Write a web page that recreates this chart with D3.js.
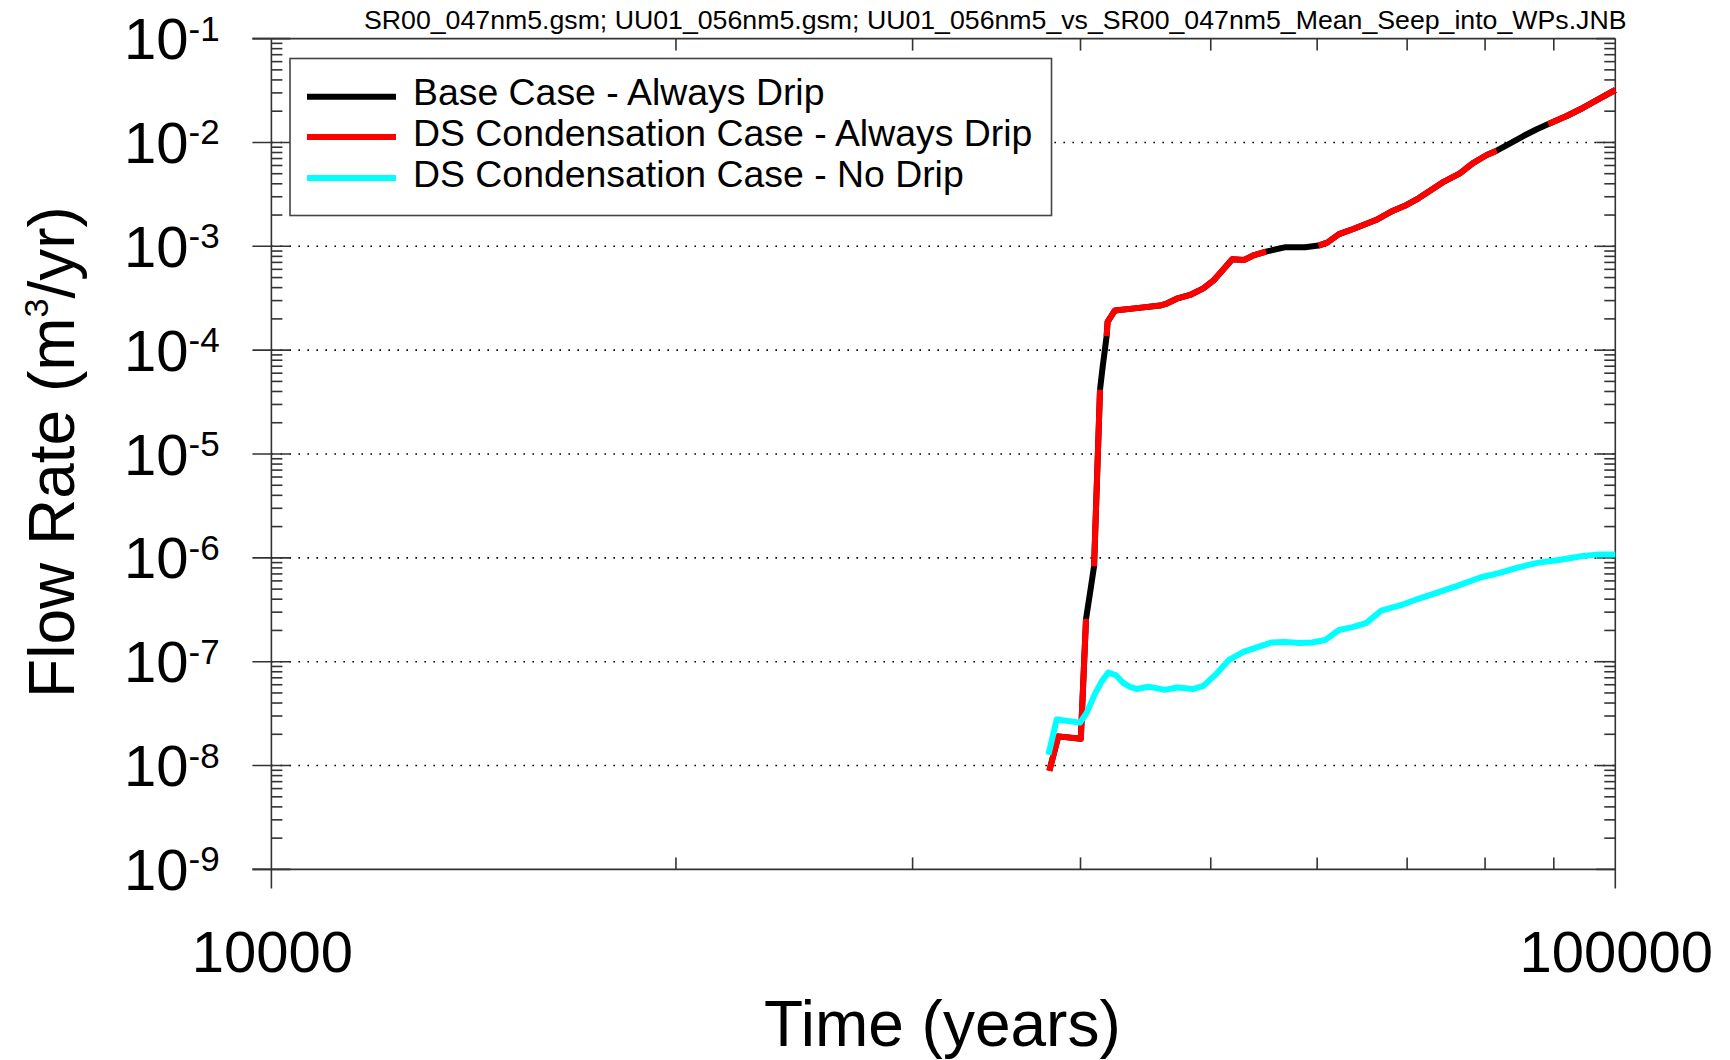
<!DOCTYPE html>
<html>
<head>
<meta charset="utf-8">
<script src="https://cdn.jsdelivr.net/npm/d3@7"></script>
<style>
  html, body { margin: 0; padding: 0; background: #fff; }
  svg { display: block; font-family: "Liberation Sans", Arial, Helvetica, sans-serif; }
</style>
</head>
<body>
<svg id="chart" width="1730" height="1060"></svg>
<script>
// Time points shared by the two "Always Drip" runs (years)
const years = [
  37920, 38510, 40020, 40380, 40660, 40940, 41360, 41550, 41830, 41900,
  42430, 44050, 45840, 46370, 47170, 48260, 49370, 50220, 50950, 51870,
  52930, 53870, 54970, 56750, 58760, 60140, 61040, 62290, 63750, 66360,
  68330, 69940, 71380, 73270, 74570, 76620, 78310, 80230, 81610, 83510,
  85430, 87410, 89170, 92010, 94670, 97410, 100000
];

// Base Case - Always Drip (m^3/yr)
const baseCaseFlow = [
  8.9e-9, 1.91e-8, 1.81e-8, 2.58e-7, 4.61e-7, 8.3e-7, 4.16e-5, 6.93e-5, 1.365e-4, 1.87e-4,
  2.41e-4, 2.54e-4, 2.69e-4, 2.81e-4, 3.13e-4, 3.40e-4, 3.93e-4, 4.66e-4, 5.75e-4, 7.5e-4,
  7.38e-4, 8.24e-4, 8.89e-4, 9.78e-4, 9.78e-4, 1.016e-3, 1.086e-3, 1.31e-3, 1.46e-3, 1.79e-3,
  2.20e-3, 2.50e-3, 2.90e-3, 3.62e-3, 4.20e-3, 5.04e-3, 6.3e-3, 7.57e-3, 8.33e-3, 9.81e-3,
  1.153e-2, 1.339e-2, 1.506e-2, 1.80e-2, 2.16e-2, 2.66e-2, 3.20e-2
];

// DS Condensation Case - Always Drip (m^3/yr); null = no value reported at that time
const dsDripFlow = [
  8.9e-9, 1.91e-8, 1.81e-8, 2.58e-7, null, 8.3e-7, 4.16e-5, null, 1.365e-4, 1.87e-4,
  2.41e-4, 2.54e-4, 2.69e-4, 2.81e-4, 3.13e-4, 3.40e-4, 3.93e-4, 4.66e-4, 5.75e-4, 7.5e-4,
  7.38e-4, 8.24e-4, 8.89e-4, null, null, 1.016e-3, 1.086e-3, 1.31e-3, 1.46e-3, 1.79e-3,
  2.20e-3, 2.50e-3, 2.90e-3, 3.62e-3, 4.20e-3, 5.04e-3, 6.3e-3, 7.57e-3, 8.33e-3, null,
  null, null, 1.506e-2, 1.80e-2, 2.16e-2, 2.66e-2, 3.20e-2
];

// DS Condensation Case - No Drip
const noDripYears = [
  37860, 38400, 39970, 40430, 41010, 41480, 41950, 42510, 43040, 43540,
  44050, 44930, 45450, 46230, 47170, 48530, 49370, 50390, 51580, 52930,
  54180, 55450, 56750, 58270, 59460, 60850, 62290, 63750, 65240, 66970,
  69340, 71180, 73690, 76280, 79460, 81780, 84720, 87700, 90810, 94570,
  97370, 100000
];
const noDripFlow = [
  1.27e-8, 2.77e-8, 2.59e-8, 3.23e-8, 4.93e-8, 6.46e-8, 7.85e-8, 7.4e-8, 6.24e-8, 5.73e-8,
  5.46e-8, 5.73e-8, 5.6e-8, 5.36e-8, 5.65e-8, 5.46e-8, 5.85e-8, 7.46e-8, 1.04e-7, 1.25e-7,
  1.38e-7, 1.53e-7, 1.55e-7, 1.51e-7, 1.53e-7, 1.62e-7, 2.02e-7, 2.15e-7, 2.35e-7, 3.10e-7,
  3.52e-7, 3.99e-7, 4.62e-7, 5.37e-7, 6.50e-7, 7.10e-7, 8.11e-7, 9.0e-7, 9.53e-7, 1.04e-6,
  1.08e-6, 1.08e-6
];

const seriesNames = [
  "Base Case - Always Drip",
  "DS Condensation Case - Always Drip",
  "DS Condensation Case - No Drip"
];
const seriesColors = ["#000000", "#ff0000", "#00ffff"];

const yTickExponents = [-1, -2, -3, -4, -5, -6, -7, -8, -9];
const xTickValues = [10000, 100000];
const xTickLabels = ["10000", "100000"];
const fileTitle = "SR00_047nm5.gsm; UU01_056nm5.gsm; UU01_056nm5_vs_SR00_047nm5_Mean_Seep_into_WPs.JNB";
const xTitle = "Time (years)";

// ---- scales ----
const plotLeft = 271.4, plotRight = 1615.3, plotTop = 38.6, plotBottom = 869.4;
const x = d3.scaleLog().domain([1e4, 1e5]).range([plotLeft, plotRight]);
const y = d3.scaleLog().domain([1e-9, 1e-1]).range([plotBottom, plotTop]);

const svg = d3.select("#chart");
svg.append("rect").attr("width", 1730).attr("height", 1060).attr("fill", "#fff");

const axisColor = "#333";
const majorLen = 19, minorLen = 11;

// dotted horizontal grid at each decade
const gridG = svg.append("g");
yTickExponents.filter(e => e < -1 && e > -9).forEach(e => {
  gridG.append("line")
    .attr("x1", plotLeft).attr("x2", plotRight)
    .attr("y1", y(Math.pow(10, e))).attr("y2", y(Math.pow(10, e)))
    .attr("stroke", "#000").attr("stroke-width", 1.6)
    .attr("stroke-dasharray", "1.6 7.4");
});

// frame
const frame = svg.append("g").attr("stroke", axisColor).attr("stroke-width", 1.6).attr("fill", "none");
frame.append("line").attr("x1", plotLeft - majorLen).attr("x2", plotRight).attr("y1", plotTop).attr("y2", plotTop);
frame.append("line").attr("x1", plotLeft - majorLen).attr("x2", plotRight).attr("y1", plotBottom).attr("y2", plotBottom);
frame.append("line").attr("x1", plotLeft).attr("x2", plotLeft).attr("y1", plotTop).attr("y2", plotBottom + majorLen);
frame.append("line").attr("x1", plotRight).attr("x2", plotRight).attr("y1", plotTop).attr("y2", plotBottom + majorLen);

// y ticks, both sides
const isDecade = v => Math.abs(Math.log10(v) - Math.round(Math.log10(v))) < 1e-9;
y.ticks().forEach(v => {
  const yy = y(v);
  if (isDecade(v)) {
    frame.append("line").attr("x1", plotLeft - majorLen).attr("x2", plotLeft + majorLen).attr("y1", yy).attr("y2", yy);
    frame.append("line").attr("x1", plotRight - majorLen).attr("x2", plotRight).attr("y1", yy).attr("y2", yy);
  } else {
    frame.append("line").attr("x1", plotLeft).attr("x2", plotLeft + minorLen).attr("y1", yy).attr("y2", yy);
    frame.append("line").attr("x1", plotRight - minorLen).attr("x2", plotRight).attr("y1", yy).attr("y2", yy);
  }
});

// x ticks, bottom and top
x.ticks().forEach(v => {
  const xx = x(v);
  if (v === 1e4 || v === 1e5) return;
  frame.append("line").attr("x1", xx).attr("x2", xx).attr("y1", plotBottom).attr("y2", plotBottom - 12);
  frame.append("line").attr("x1", xx).attr("x2", xx).attr("y1", plotTop).attr("y2", plotTop + 12);
});

// y tick labels 10^n
const yLab = svg.append("g").attr("fill", "#000");
yTickExponents.forEach(e => {
  const yy = y(Math.pow(10, e));
  const t = yLab.append("text").attr("x", 124).attr("y", yy + 20.5).attr("font-size", 58);
  t.append("tspan").text("10");
  t.append("tspan").attr("font-size", 35).attr("dy", -18.5).text(String(e));
});

// x tick labels
xTickValues.forEach((v, i) => {
  svg.append("text").attr("x", x(v) + 1).attr("y", 972)
    .attr("text-anchor", "middle").attr("font-size", 58).text(xTickLabels[i]);
});

// axis titles
svg.append("text").attr("x", (plotLeft + plotRight) / 2 - 1).attr("y", 1046)
  .attr("text-anchor", "middle").attr("font-size", 64).text(xTitle);

const yt = svg.append("text")
  .attr("transform", `translate(74,${(plotTop + plotBottom) / 2 - 2}) rotate(-90)`)
  .attr("text-anchor", "middle").attr("font-size", 64);
yt.append("tspan").text("Flow Rate (m");
yt.append("tspan").attr("font-size", 34).attr("dy", -26).text("3");
yt.append("tspan").attr("dy", 26).text("/yr)");

// file title
svg.append("text").attr("x", 364).attr("y", 29).attr("font-size", 26.7).text(fileTitle);

// curves
const line = d3.line()
  .defined(d => d[1] != null)
  .x(d => x(d[0]))
  .y(d => y(d[1]))
  .curve(d3.curveLinear);

const curves = svg.append("g").attr("fill", "none").attr("stroke-width", 6)
  .attr("stroke-linejoin", "round").attr("stroke-linecap", "butt");

curves.append("path").datum(years.map((t, i) => [t, baseCaseFlow[i]]))
  .attr("stroke", seriesColors[0]).attr("d", line);
curves.append("path").datum(years.map((t, i) => [t, dsDripFlow[i]]))
  .attr("stroke", seriesColors[1]).attr("d", line);
curves.append("path").datum(noDripYears.map((t, i) => [t, noDripFlow[i]]))
  .attr("stroke", seriesColors[2]).attr("d", line);

// legend
const lg = svg.append("g");
lg.append("rect").attr("x", 290).attr("y", 58.5).attr("width", 761.5).attr("height", 157)
  .attr("fill", "#fff").attr("stroke", "#444").attr("stroke-width", 1.6);
const rowY = [96.7, 137, 178];
const rowBase = [104.5, 145.5, 186.5];
seriesNames.forEach((name, i) => {
  lg.append("line").attr("x1", 307).attr("x2", 396).attr("y1", rowY[i]).attr("y2", rowY[i])
    .attr("stroke", seriesColors[i]).attr("stroke-width", 6);
  lg.append("text").attr("x", 413).attr("y", rowBase[i]).attr("font-size", 37.4).text(name);
});
</script>
</body>
</html>
